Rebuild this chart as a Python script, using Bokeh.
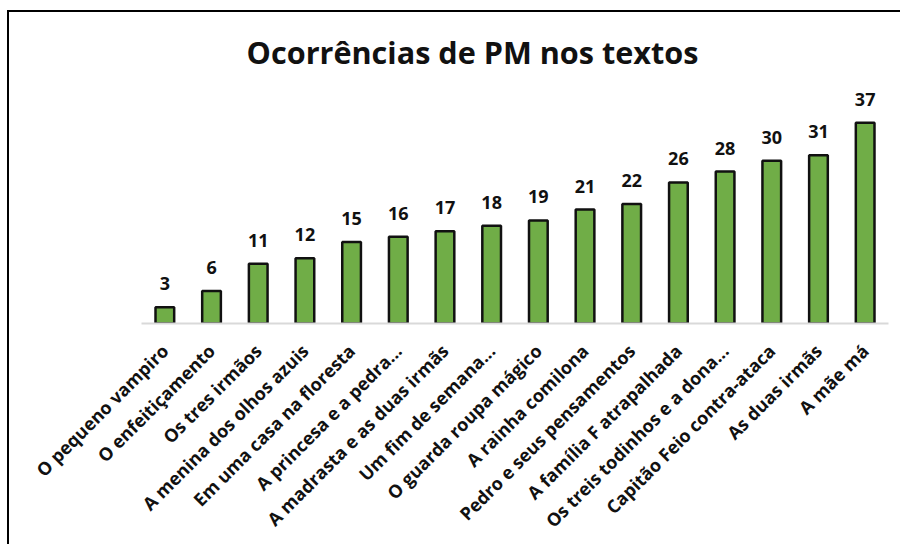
import math
from bokeh.plotting import figure
from bokeh.models import ColumnDataSource, LabelSet, Label
from bokeh.core.properties import value
from bokeh.embed import file_html
from bokeh.resources import INLINE

chart_title = "Ocorrências de PM nos textos"
titles = ["O pequeno vampiro", "O enfeitiçamento", "Os tres irmãos",
          "A menina dos olhos azuis", "Em uma casa na floresta",
          "A princesa e a pedra...", "A madrasta e as duas irmãs",
          "Um fim de semana...", "O guarda roupa mágico", "A rainha comilona",
          "Pedro e seus pensamentos", "A família F atrapalhada",
          "Os treis todinhos e a dona...", "Capitão Feio contra-ataca",
          "As duas irmãs", "A mãe má"]
counts = [3, 6, 11, 12, 15, 16, 17, 18, 19, 21, 22, 26, 28, 30, 31, 37]

src = ColumnDataSource(data=dict(x=titles, y=counts, lbl=[str(c) for c in counts]))

FONT = "Open Sans"

p = figure(x_range=titles, y_range=(0, 57.3), width=893, height=534,
           output_backend="svg", toolbar_location=None, title_location=None,
           min_border_left=132, min_border_right=14, min_border_top=0,
           min_border_bottom=223,
           styles={"position": "relative", "left": "7px", "top": "10px",
                   "border-left": "2px solid black", "border-top": "2px solid black"})

p.vbar(x="x", top="y", width=0.40, source=src, fill_color="#70ad47",
       line_color="#111111", line_width=2.5)

labels = LabelSet(x="x", y="y", text="lbl", source=src, text_align="center",
                  text_baseline="bottom", y_offset=17, text_font=value(FONT),
                  text_font_style="bold", text_font_size="18px", text_color="#111111")
p.add_layout(labels)

title_lbl = Label(x=331, y=272, x_units="screen", y_units="screen",
                  text=chart_title, text_align="center", text_baseline="alphabetic",
                  text_font=FONT, text_font_size="30.6px", text_font_style="bold",
                  text_color="#111111")
p.add_layout(title_lbl)

p.yaxis.visible = False
p.xgrid.visible = False
p.ygrid.visible = False
p.outline_line_color = None

ax = p.xaxis[0]
ax.axis_line_color = "#d9d9d9"
ax.axis_line_width = 2
ax.major_tick_line_color = None
ax.minor_tick_line_color = None
ax.major_label_orientation = math.pi / 4
ax.major_label_standoff = 18
ax.major_label_text_font = FONT
ax.major_label_text_font_style = "bold"
ax.major_label_text_font_size = "18px"
ax.major_label_text_color = "#111111"
p.x_range.range_padding = 0

open("out.html", "w").write(file_html(p, INLINE))
